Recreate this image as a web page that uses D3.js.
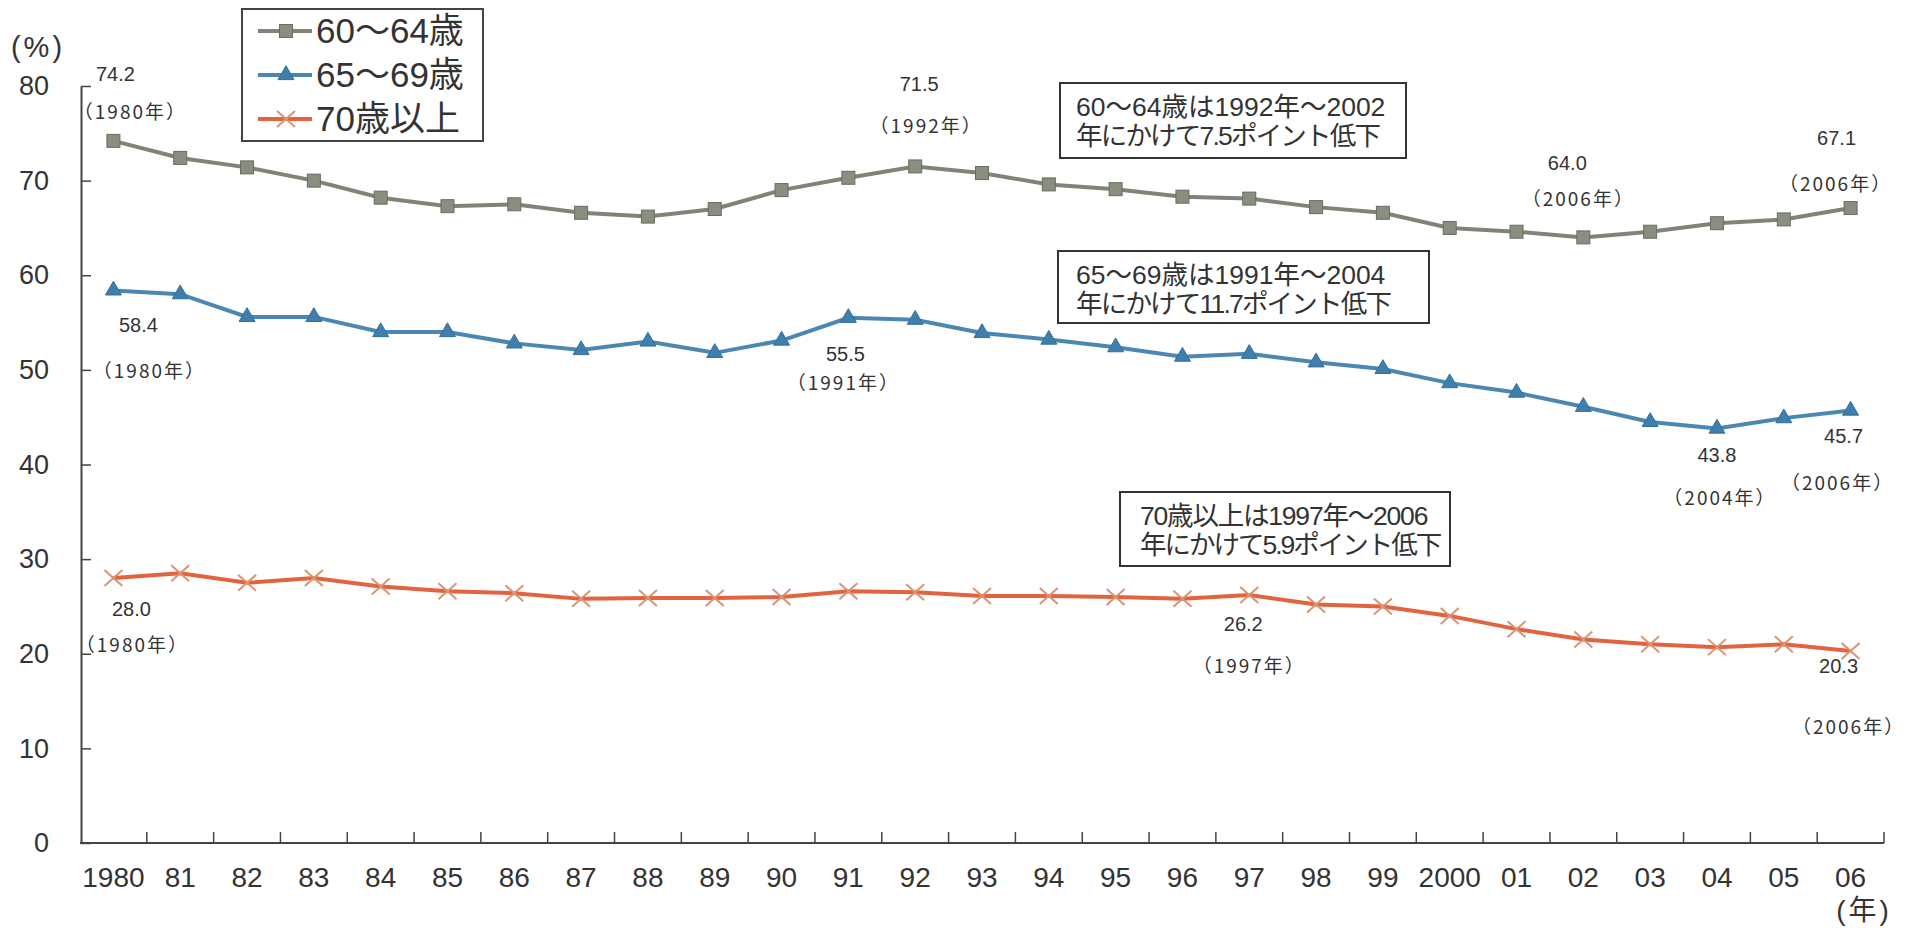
<!DOCTYPE html>
<html>
<head>
<meta charset="utf-8">
<script src="https://cdn.jsdelivr.net/npm/d3@7/dist/d3.min.js"></script>
<style>
  body { margin: 0; background: #ffffff; }
  text { font-family: "Liberation Sans", "Noto Sans CJK JP", sans-serif; fill: #333; }
  .cjk { font-family: "Noto Sans CJK JP", sans-serif; }
</style>
</head>
<body>
<div id="chart"></div>
<script>
// years on the x axis
const years = ["1980", "81", "82", "83", "84", "85", "86", "87", "88", "89",
  "90", "91", "92", "93", "94", "95", "96", "97", "98", "99",
  "2000", "01", "02", "03", "04", "05", "06"];

// labour force participation (%)
const age6064 = [74.2, 72.4, 71.4, 70.0, 68.2, 67.3, 67.5, 66.6, 66.2, 67.0,
  69.0, 70.3, 71.5, 70.8, 69.6, 69.1, 68.3, 68.1, 67.2, 66.6,
  65.0, 64.6, 64.0, 64.6, 65.5, 65.9, 67.1];
const age6569 = [58.4, 58.0, 55.6, 55.6, 54.0, 54.0, 52.8, 52.1, 53.0, 51.8,
  53.1, 55.5, 55.3, 53.9, 53.2, 52.4, 51.4, 51.7, 50.8, 50.1,
  48.6, 47.6, 46.1, 44.5, 43.8, 44.9, 45.7];
const age70 = [28.0, 28.5, 27.5, 28.0, 27.1, 26.6, 26.4, 25.8, 25.9, 25.9,
  26.0, 26.6, 26.5, 26.1, 26.1, 26.0, 25.8, 26.2, 25.2, 25.0,
  24.0, 22.6, 21.5, 21.0, 20.7, 21.0, 20.3];

const yTicks = [0, 10, 20, 30, 40, 50, 60, 70, 80];
const seriesNames = ["60〜64歳", "65〜69歳", "70歳以上"];

// callout texts
const notes = [
  ["60〜64歳は1992年〜2002", "年にかけて7.5ポイント低下"],
  ["65〜69歳は1991年〜2004", "年にかけて11.7ポイント低下"],
  ["70歳以上は1997年〜2006", "年にかけて5.9ポイント低下"]
];

// point labels: series, year, value text, year text
const pointLabels = [
  [0, "1980", "74.2", "（1980年）"],
  [0, "92", "71.5", "（1992年）"],
  [0, "02", "64.0", "（2006年）"],
  [0, "06", "67.1", "（2006年）"],
  [1, "1980", "58.4", "（1980年）"],
  [1, "91", "55.5", "（1991年）"],
  [1, "04", "43.8", "（2004年）"],
  [1, "06", "45.7", "（2006年）"],
  [2, "1980", "28.0", "（1980年）"],
  [2, "97", "26.2", "（1997年）"],
  [2, "06", "20.3", "（2006年）"]
];

const width = 1922, height = 931;
const svg = d3.select("#chart").append("svg")
  .attr("width", width)
  .attr("height", height);

const x = d3.scaleBand().domain(years).range([80, 1884]);
const y = d3.scaleLinear().domain([0, 80]).range([843, 86]);
const cx = d => x(d) + x.bandwidth() / 2;

const series = [
  { values: age6064, line: "#7e8577", fill: "#888f7f", stroke: "#676d60", mark: "square" },
  { values: age6569, line: "#4a88b3", fill: "#3f7fad", stroke: "#356e99", mark: "triangle" },
  { values: age70, line: "#e3633e", fill: "none", stroke: "#d99473", mark: "cross" }
];

///////// Axes //////////////
const yAxis = svg.append("g")
  .attr("transform", "translate(81,0)")
  .call(d3.axisLeft(y).tickValues(yTicks).tickSizeInner(-10).tickSizeOuter(0).tickPadding(32));
yAxis.attr("font-size", 27).attr("font-family", null);
yAxis.select(".domain").attr("stroke", "#444").attr("stroke-width", 2);
yAxis.selectAll(".tick line").attr("stroke", "#444").attr("stroke-width", 1.5);
yAxis.selectAll("text").attr("fill", "#333");

const xAxis = svg.append("g")
  .attr("transform", "translate(0,843)")
  .call(d3.axisBottom(x).tickSize(0).tickPadding(24));
xAxis.attr("font-size", 28).attr("font-family", null);
xAxis.select(".domain").remove();
xAxis.selectAll("text").attr("fill", "#333");

svg.append("line")
  .attr("x1", 80).attr("x2", x.range()[1])
  .attr("y1", y(0)).attr("y2", y(0))
  .attr("stroke", "#444").attr("stroke-width", 2);

// ticks sit on the band boundaries
svg.append("g").selectAll("line")
  .data(years)
  .join("line")
  .attr("x1", d => x(d) + x.bandwidth())
  .attr("x2", d => x(d) + x.bandwidth())
  .attr("y1", y(0))
  .attr("y2", y(0) - 11)
  .attr("stroke", "#444")
  .attr("stroke-width", 1.5);

// unit labels
svg.append("text").attr("x", 38).attr("y", 47).attr("dy", "0.35em")
  .attr("text-anchor", "middle").attr("font-size", 29).attr("letter-spacing", 3)
  .text("(%)");
svg.append("text").attr("x", 1864).attr("y", 910).attr("dy", "0.35em")
  .attr("text-anchor", "middle").attr("font-size", 28).attr("letter-spacing", 3)
  .text("(年)");

///////// Markers //////////////
function drawMarker(g, s, px, py) {
  if (s.mark === "square") {
    g.append("rect")
      .attr("x", px - 6.5).attr("y", py - 6.5)
      .attr("width", 13).attr("height", 13)
      .attr("fill", s.fill).attr("stroke", s.stroke).attr("stroke-width", 1);
  } else if (s.mark === "triangle") {
    g.append("path")
      .attr("d", d3.symbol(d3.symbolTriangle, 110)())
      .attr("transform", `translate(${px},${py})`)
      .attr("fill", s.fill).attr("stroke", s.stroke).attr("stroke-width", 1);
  } else {
    g.append("path")
      .attr("d", `M${px - 9},${py - 8}L${px + 9},${py + 8}M${px - 9},${py + 8}L${px + 9},${py - 8}`)
      .attr("stroke", s.stroke).attr("stroke-width", 2);
  }
}

///////// Lines //////////////
const line = d3.line().x((d, i) => cx(years[i])).y(d => y(d));

series.forEach(s => {
  svg.append("path")
    .datum(s.values)
    .attr("d", line)
    .attr("fill", "none")
    .attr("stroke", s.line)
    .attr("stroke-width", 4);
  const g = svg.append("g");
  s.values.forEach((v, i) => drawMarker(g, s, cx(years[i]), y(v)));
});

///////// Point labels //////////////
// offsets (dx, dy of value text, dx, dy of year text) from the point
const labelOffsets = [
  [2, -67, 17, -29],
  [4, -82, 11, -40],
  [-16, -74, -5, -38],
  [-14, -70, -15, -24],
  [25, 35, 36, 81],
  [-3, 36, -5, 66],
  [0, 26, 3, 70],
  [-7, 25, -13, 73],
  [18, 31, 19, 67],
  [-6, 29, 0, 71],
  [-12, 15, -2, 76]
];

pointLabels.forEach((p, i) => {
  const s = series[p[0]];
  const px = cx(p[1]);
  const py = y(s.values[years.indexOf(p[1])]);
  const o = labelOffsets[i];
  svg.append("text")
    .attr("x", px + o[0]).attr("y", py + o[1]).attr("dy", "0.35em")
    .attr("text-anchor", "middle").attr("font-size", 20)
    .text(p[2]);
  svg.append("text")
    .attr("class", "cjk")
    .attr("x", px + o[2]).attr("y", py + o[3]).attr("dy", "0.35em")
    .attr("text-anchor", "middle").attr("font-size", 19)
    .attr("letter-spacing", 2)
    .text(p[3]);
});

///////// Callout boxes //////////////
// sp: letter-spacing of each text line
const noteBoxes = [
  { x: 1060, y: 83, w: 346, h: 75, tx: 1076, sp: [0, -1.8] },
  { x: 1058, y: 251, w: 371, h: 72, tx: 1076, sp: [0, -1.8] },
  { x: 1120, y: 492, w: 330, h: 74, tx: 1140, sp: [-1.2, -2] }
];

notes.forEach((n, i) => {
  const b = noteBoxes[i];
  svg.append("rect")
    .attr("x", b.x).attr("y", b.y).attr("width", b.w).attr("height", b.h)
    .attr("fill", "#fff").attr("stroke", "#333").attr("stroke-width", 2);
  n.forEach((t, j) => {
    svg.append("text")
      .attr("x", b.tx).attr("y", b.y + 24 + j * 29).attr("dy", "0.35em")
      .attr("font-size", 26.5)
      .attr("letter-spacing", b.sp[j])
      .text(t);
  });
});

///////// Legend //////////////
const legend = svg.append("g");
legend.append("rect")
  .attr("x", 242).attr("y", 9).attr("width", 241).attr("height", 132)
  .attr("fill", "#fff").attr("stroke", "#444").attr("stroke-width", 2);

const rowY = [31, 75, 119];
series.forEach((s, i) => {
  legend.append("line")
    .attr("x1", 258).attr("x2", 312)
    .attr("y1", rowY[i]).attr("y2", rowY[i])
    .attr("stroke", s.line).attr("stroke-width", 4);
  drawMarker(legend, s, 286, rowY[i]);
  legend.append("text")
    .attr("x", 316).attr("y", rowY[i]).attr("dy", "0.35em")
    .attr("font-size", 35)
    .text(seriesNames[i]);
});
</script>
</body>
</html>
